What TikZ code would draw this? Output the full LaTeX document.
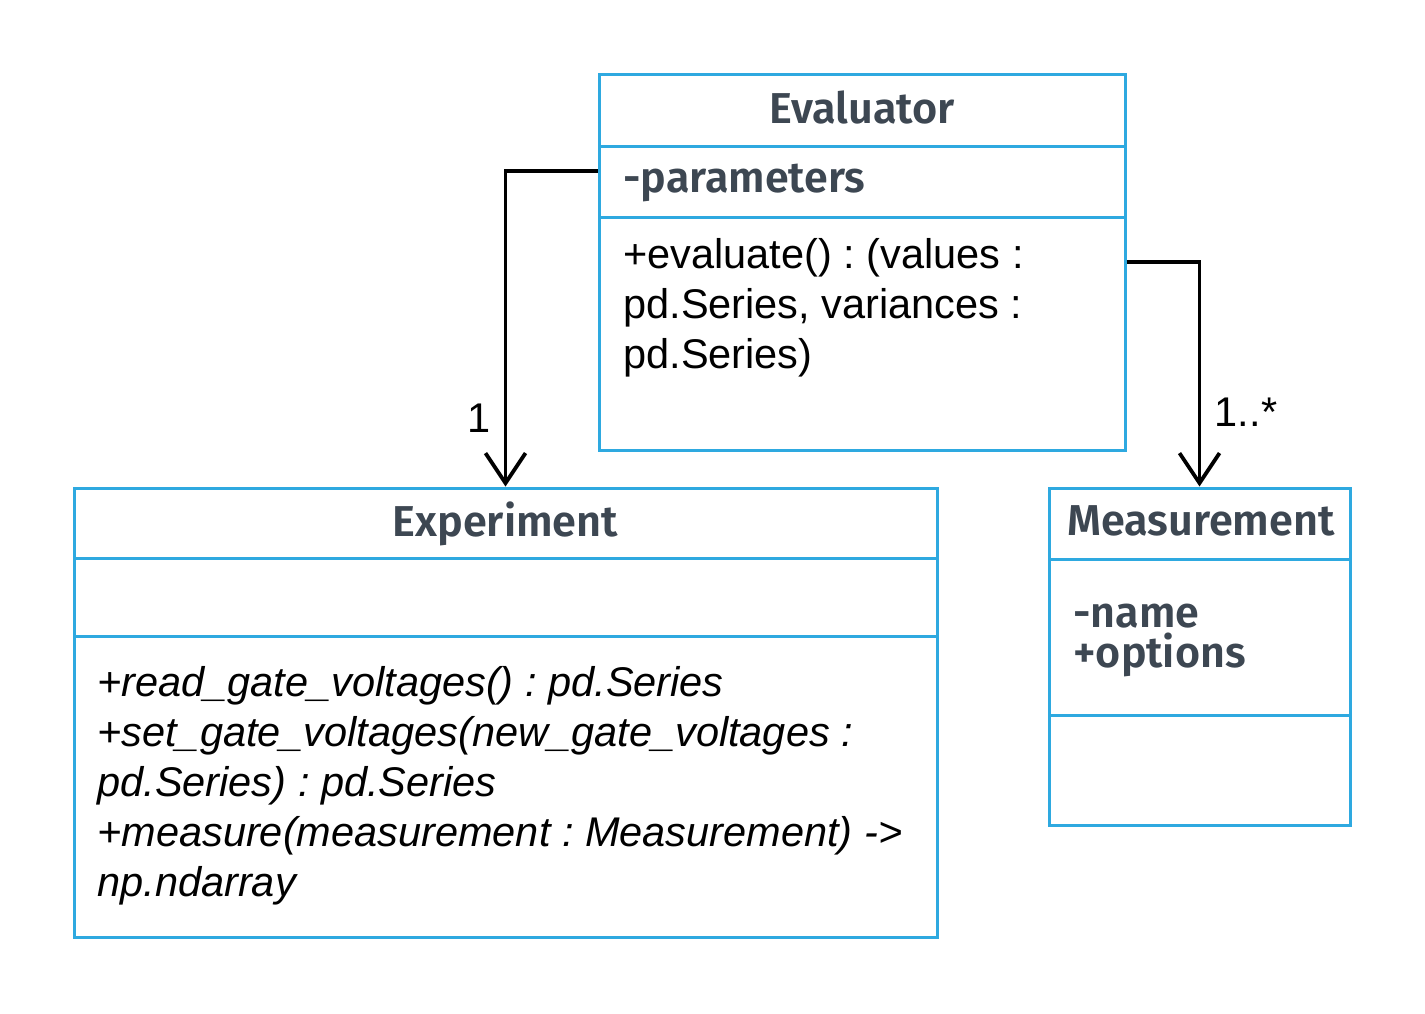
\documentclass[tikz,border=0pt]{standalone}
\usepackage{fontspec}
\setmainfont{Liberation Sans}
\newfontfamily\firasb{Fira Sans SemiBold}
\usetikzlibrary{arrows.meta}
\definecolor{umlblue}{HTML}{2EA9E0}
\definecolor{umlslate}{HTML}{3D4752}
\newcommand{\tp}{\rule{0pt}{0.75em}}
\frenchspacing
\begin{document}
\begin{tikzpicture}[x=0.5pt,y=-0.5pt,
  box/.style={draw=umlblue,line width=1.5pt,inner sep=0pt},
  title/.style={font=\firasb\fontsize{21.6}{24}\selectfont,text=umlslate,inner sep=0pt,anchor=base},
  attr/.style={font=\firasb\fontsize{21.5}{20}\selectfont,text=umlslate,inner sep=0pt,align=left,anchor=north west},
  meth/.style={font=\fontsize{20.75}{25}\selectfont,text=black,inner sep=0pt,align=left,anchor=north west},
  mult/.style={font=\fontsize{20.75}{25}\selectfont,text=black,inner sep=0pt,anchor=base},
  assoc/.style={draw=black,line width=1.9pt,-{Straight Barb[length=15pt,width=20pt,line width=1.9pt]}}]
\useasboundingbox (0,0) rectangle (1425,1013);
% Evaluator
\node[box,minimum width=526*0.5pt,minimum height=72*0.5pt] (evT) at (862,110) {};
\node[box,minimum width=526*0.5pt,minimum height=71*0.5pt] (evA) at (862,181.5) {};
\node[box,minimum width=526*0.5pt,minimum height=233*0.5pt] (evM) at (862,333.5) {};
\node[title] (evTt) at (862,123) {Evaluator};
\node[attr] (evAt) at (623,160) {\tp-parameters};
\node[meth] (evMt) at (623,237) {\tp+evaluate() : (values :\\pd.Series, variances :\\pd.Series)};
% Experiment
\node[box,minimum width=863*0.5pt,minimum height=70*0.5pt] (exT) at (505.5,523) {};
\node[box,minimum width=863*0.5pt,minimum height=78*0.5pt] (exA) at (505.5,597) {};
\node[box,minimum width=863*0.5pt,minimum height=301*0.5pt] (exM) at (505.5,786.5) {};
\node[title] (exTt) at (505.5,536) {Experiment};
\node[meth,font=\itshape\fontsize{20.75}{25}\selectfont] (exMt) at (97,665) {\tp+read\_gate\_voltages() : pd.Series\\+set\_gate\_voltages(new\_gate\_voltages :\\pd.Series) : pd.Series\\+measure(measurement : Measurement) ->\\np.ndarray};
% Measurement
\node[box,minimum width=301*0.5pt,minimum height=71*0.5pt] (msT) at (1199.5,523.5) {};
\node[box,minimum width=301*0.5pt,minimum height=156*0.5pt] (msA) at (1199.5,637) {};
\node[box,minimum width=301*0.5pt,minimum height=110*0.5pt] (msM) at (1199.5,770) {};
\node[title] (msTt) at (1201,535) {Measurement};
\node[attr] (msAt) at (1073,595) {\tp-name\\+options};
% associations
\draw[assoc] (evA.west |- 0,171) -| (exT.north);
\draw[assoc] (evM.east |- 0,262) -| (msT.north);
\node[mult] (m1) at (479,432) {1};
\node[mult] (m2) at (1246,426) {1..*};
\end{tikzpicture}
\end{document}
